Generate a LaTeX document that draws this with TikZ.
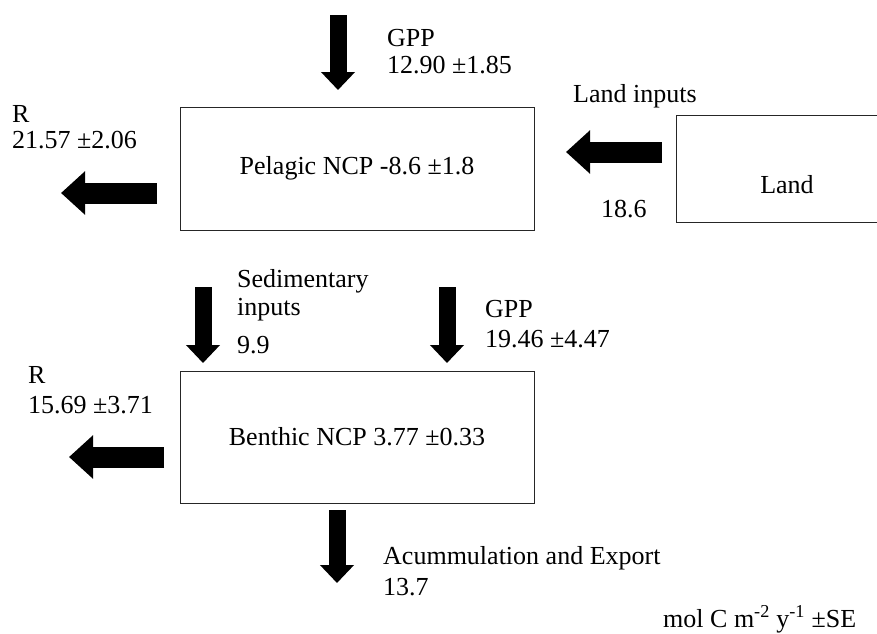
\documentclass[tikz,border=0pt]{standalone}
\usepackage{fontspec}
\setmainfont{Liberation Serif}
\usetikzlibrary{arrows.meta}

\begin{document}
\begin{tikzpicture}[
    x=1pt, y=-1pt,
    font=\fontsize{26}{28}\selectfont,
    box/.style={draw=black!85, line width=0.9pt, inner sep=0pt},
    flowv/.style={line width=17pt, -{Triangle[length=18pt, width=33pt]}},
    flowh/.style={line width=21pt, -{Triangle[length=24pt, width=42pt]}},
    lbl/.style={anchor=base west, align=left, inner sep=0pt}
]
    \useasboundingbox (0,0) rectangle (877,633);

    % Boxes
    \node[box, minimum width=354pt, minimum height=123pt] (pelagic) at (357,168.5) {Pelagic NCP -8.6 ±1.8};
    \node[box, minimum width=354pt, minimum height=132pt] (benthic) at (357,437) {Benthic NCP 3.77 ±0.33};
    \node[box, minimum width=222pt, minimum height=107pt, text height=49pt, text depth=0pt] (land) at (787,168.5) {Land};

    % Coordinates of the flux arrows
    \coordinate (gpp_top)  at (338,15);   \coordinate (gpp_bot)  at (338,90);
    \coordinate (rpel_s)   at (157,193);  \coordinate (rpel_e)   at (61,193);
    \coordinate (land_s)   at (662,152);  \coordinate (land_e)   at (566,152);
    \coordinate (sed_top)  at (203,287);  \coordinate (sed_bot)  at (203,363);
    \coordinate (gppb_top) at (447,287);  \coordinate (gppb_bot) at (447,363);
    \coordinate (rben_s)   at (164,457);  \coordinate (rben_e)   at (69,457);
    \coordinate (acc_top)  at (337,510);  \coordinate (acc_bot)  at (337,583);

    % Fluxes
    \draw[flowv] (gpp_top) -- (gpp_bot);
    \draw[flowh] (rpel_s) -- (rpel_e);
    \draw[flowh] (land_s) -- (land_e);
    \draw[flowv] (sed_top) -- (sed_bot);
    \draw[flowv] (gppb_top) -- (gppb_bot);
    \draw[flowh] (rben_s) -- (rben_e);
    \draw[flowv] (acc_top) -- (acc_bot);

    % Labels (anchored at the baseline of their last line)
    \node[lbl] (gpp_lbl) at (387,73) {GPP\\[-1pt]12.90 ±1.85};
    \node[lbl] (rpel_lbl) at (12,148) {R\\[-2pt]21.57 ±2.06};
    \node[lbl] (land_lbl) at (573,102) {Land inputs};
    \node[lbl] (land_val) at (601,217) {18.6};
    \node[lbl] (sed_lbl) at (237,353) {Sedimentary\\inputs\\[10pt]9.9};
    \node[lbl] (rben_lbl) at (28,413) {R\\[2pt]15.69 ±3.71};
    \node[lbl] (gppb_lbl) at (485,347) {GPP\\[2pt]19.46 ±4.47};
    \node[lbl] (acc_lbl) at (383,595) {Acummulation and Export\\[3pt]13.7};
    \node[lbl] (unit_lbl) at (663,627) {mol C m\textsuperscript{-2} y\textsuperscript{-1} ±SE};

\end{tikzpicture}
\end{document}
